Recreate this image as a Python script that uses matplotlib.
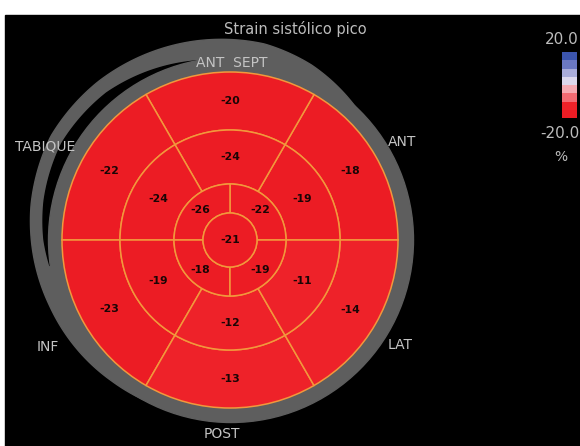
import numpy as np
import matplotlib
matplotlib.use("Agg")
from matplotlib import pyplot as plt
from matplotlib.patches import Wedge, Circle, Rectangle, Polygon
from matplotlib.colors import ListedColormap, BoundaryNorm

# valeurs de strain par segment (modele 17 segments)
basal_vals = [-18, -20, -22, -23, -13, -14]     # centres a 30,90,150,210,270,330 deg
mid_vals = [-19, -24, -24, -19, -12, -11]
apical_vals = [-22, -26, -18, -19]              # centres a 45,135,225,315 deg
apex_val = -21
wall_names = ["ANT", "ANT  SEPT", "TABIQUE", "INF", "POST", "LAT"]
cbar_levels = [-20, -15, -10, -5, 0, 5, 10, 15, 20]
cbar_colors = ["#ec1c24", "#ee2229", "#f26b73", "#f5aab2",
               "#dcd8ec", "#a9acd9", "#6b78c2", "#3c55ae"]
title = "Strain sistólico pico"

W, H = 580, 446
fig = plt.figure(figsize=(W / 100, H / 100), dpi=100)
fig.patch.set_facecolor("white")
ax = fig.add_axes([0, 0, 1, 1])
ax.set_xlim(0, W)
ax.set_ylim(0, H)
ax.set_aspect("equal")
ax.axis("off")

cmap = ListedColormap(cbar_colors)
norm = BoundaryNorm(cbar_levels, cmap.N)

# fond noir
ax.add_patch(Rectangle((5, 0), W - 5, H - 15, color="black", zorder=0))

cx, cy = 230, H - 240
R_out, R_mid, R_ap, R_apex = 168, 110, 56, 27
gray = "#5e5e5e"
line_col = "#f2983c"

def band(a_pts, r_pts, color, z):
    # bande decorative definie par un profil de rayon r(angle)
    th = np.linspace(a_pts[0], a_pts[-1], 200)
    r = np.interp(th, a_pts, r_pts)
    t = np.deg2rad(th)
    outer = np.column_stack([cx + r * np.cos(t), cy + r * np.sin(t)])
    inner = np.column_stack([cx + 170 * np.cos(t), cy + 170 * np.sin(t)])[::-1]
    ax.add_patch(Polygon(np.vstack([outer, inner]), closed=True, color=color, zorder=z))

# arc gris exterieur + fente noire (cote septal)
band([45, 65, 80, 100, 130, 150, 170, 185, 200, 215, 230, 245],
     [182, 193, 199, 202, 206, 207, 202, 197, 192, 188, 184, 181], gray, 1)
band([100, 115, 130, 150, 168, 180, 188],
     [182, 187, 192, 194, 190, 186, 182], "black", 2)
ax.add_patch(Circle((231, cy), 182.5, color=gray, zorder=3))

def seg(r, width, a1, a2, val):
    ax.add_patch(Wedge((cx, cy), r, a1, a2, width=width, facecolor=cmap(norm(val)),
                       edgecolor=line_col, linewidth=1.1, zorder=4))

def lab(r, ang, val):
    t = np.deg2rad(ang)
    ax.text(cx + r * np.cos(t), cy + r * np.sin(t), str(val), ha="center", va="center",
            fontsize=7.8, fontweight="bold", color="#1a0505", zorder=6)

for i, v in enumerate(basal_vals):
    a = 30 + 60 * i
    seg(R_out, R_out - R_mid, a - 30, a + 30, v)
    lab((R_out + R_mid) / 2, a, v)
for i, v in enumerate(mid_vals):
    a = 30 + 60 * i
    seg(R_mid, R_mid - R_ap, a - 30, a + 30, v)
    lab((R_mid + R_ap) / 2, a, v)
for i, v in enumerate(apical_vals):
    a = 45 + 90 * i
    seg(R_ap, R_ap - R_apex, a - 45, a + 45, v)
    lab((R_ap + R_apex) / 2 + 1, a, v)
ax.add_patch(Circle((cx, cy), R_apex, facecolor=cmap(norm(apex_val)),
                    edgecolor=line_col, linewidth=1.1, zorder=4))
lab(0, 0, apex_val)

# noms des parois
name_pos = [(402, 142), (232, 63), (45, 147), (48, 347), (222, 434), (400, 345)]
for name, (x, y) in zip(wall_names, name_pos):
    ax.text(x, H - y, name, ha="center", va="center", fontsize=10,
            color="#c4c4c4", zorder=7)

ax.text(295, H - 29, title, ha="center", va="center", fontsize=10.5,
        color="#bcbcbc", zorder=7)

# barre de couleur
cax = fig.add_axes([562 / W, 1 - 118 / H, 15 / W, 66 / H])
cax.pcolormesh([0, 1], cbar_levels, np.array(cbar_levels[:-1]).reshape(-1, 1) + 2.5,
               cmap=cmap, norm=norm)
cax.set_xlim(0, 1)
cax.set_ylim(cbar_levels[0], cbar_levels[-1])
cax.axis("off")
ax.text(562, H - 40, "%.1f" % cbar_levels[-1], ha="center", va="center",
        fontsize=11, color="#bcbcbc", zorder=7)
ax.text(560, H - 133, "%.1f" % cbar_levels[0], ha="center", va="center",
        fontsize=11, color="#bcbcbc", zorder=7)
ax.text(561, H - 157, "%", ha="center", va="center", fontsize=10,
        color="#bcbcbc", zorder=7)

fig.savefig("out.png", dpi=100, facecolor=fig.get_facecolor())
